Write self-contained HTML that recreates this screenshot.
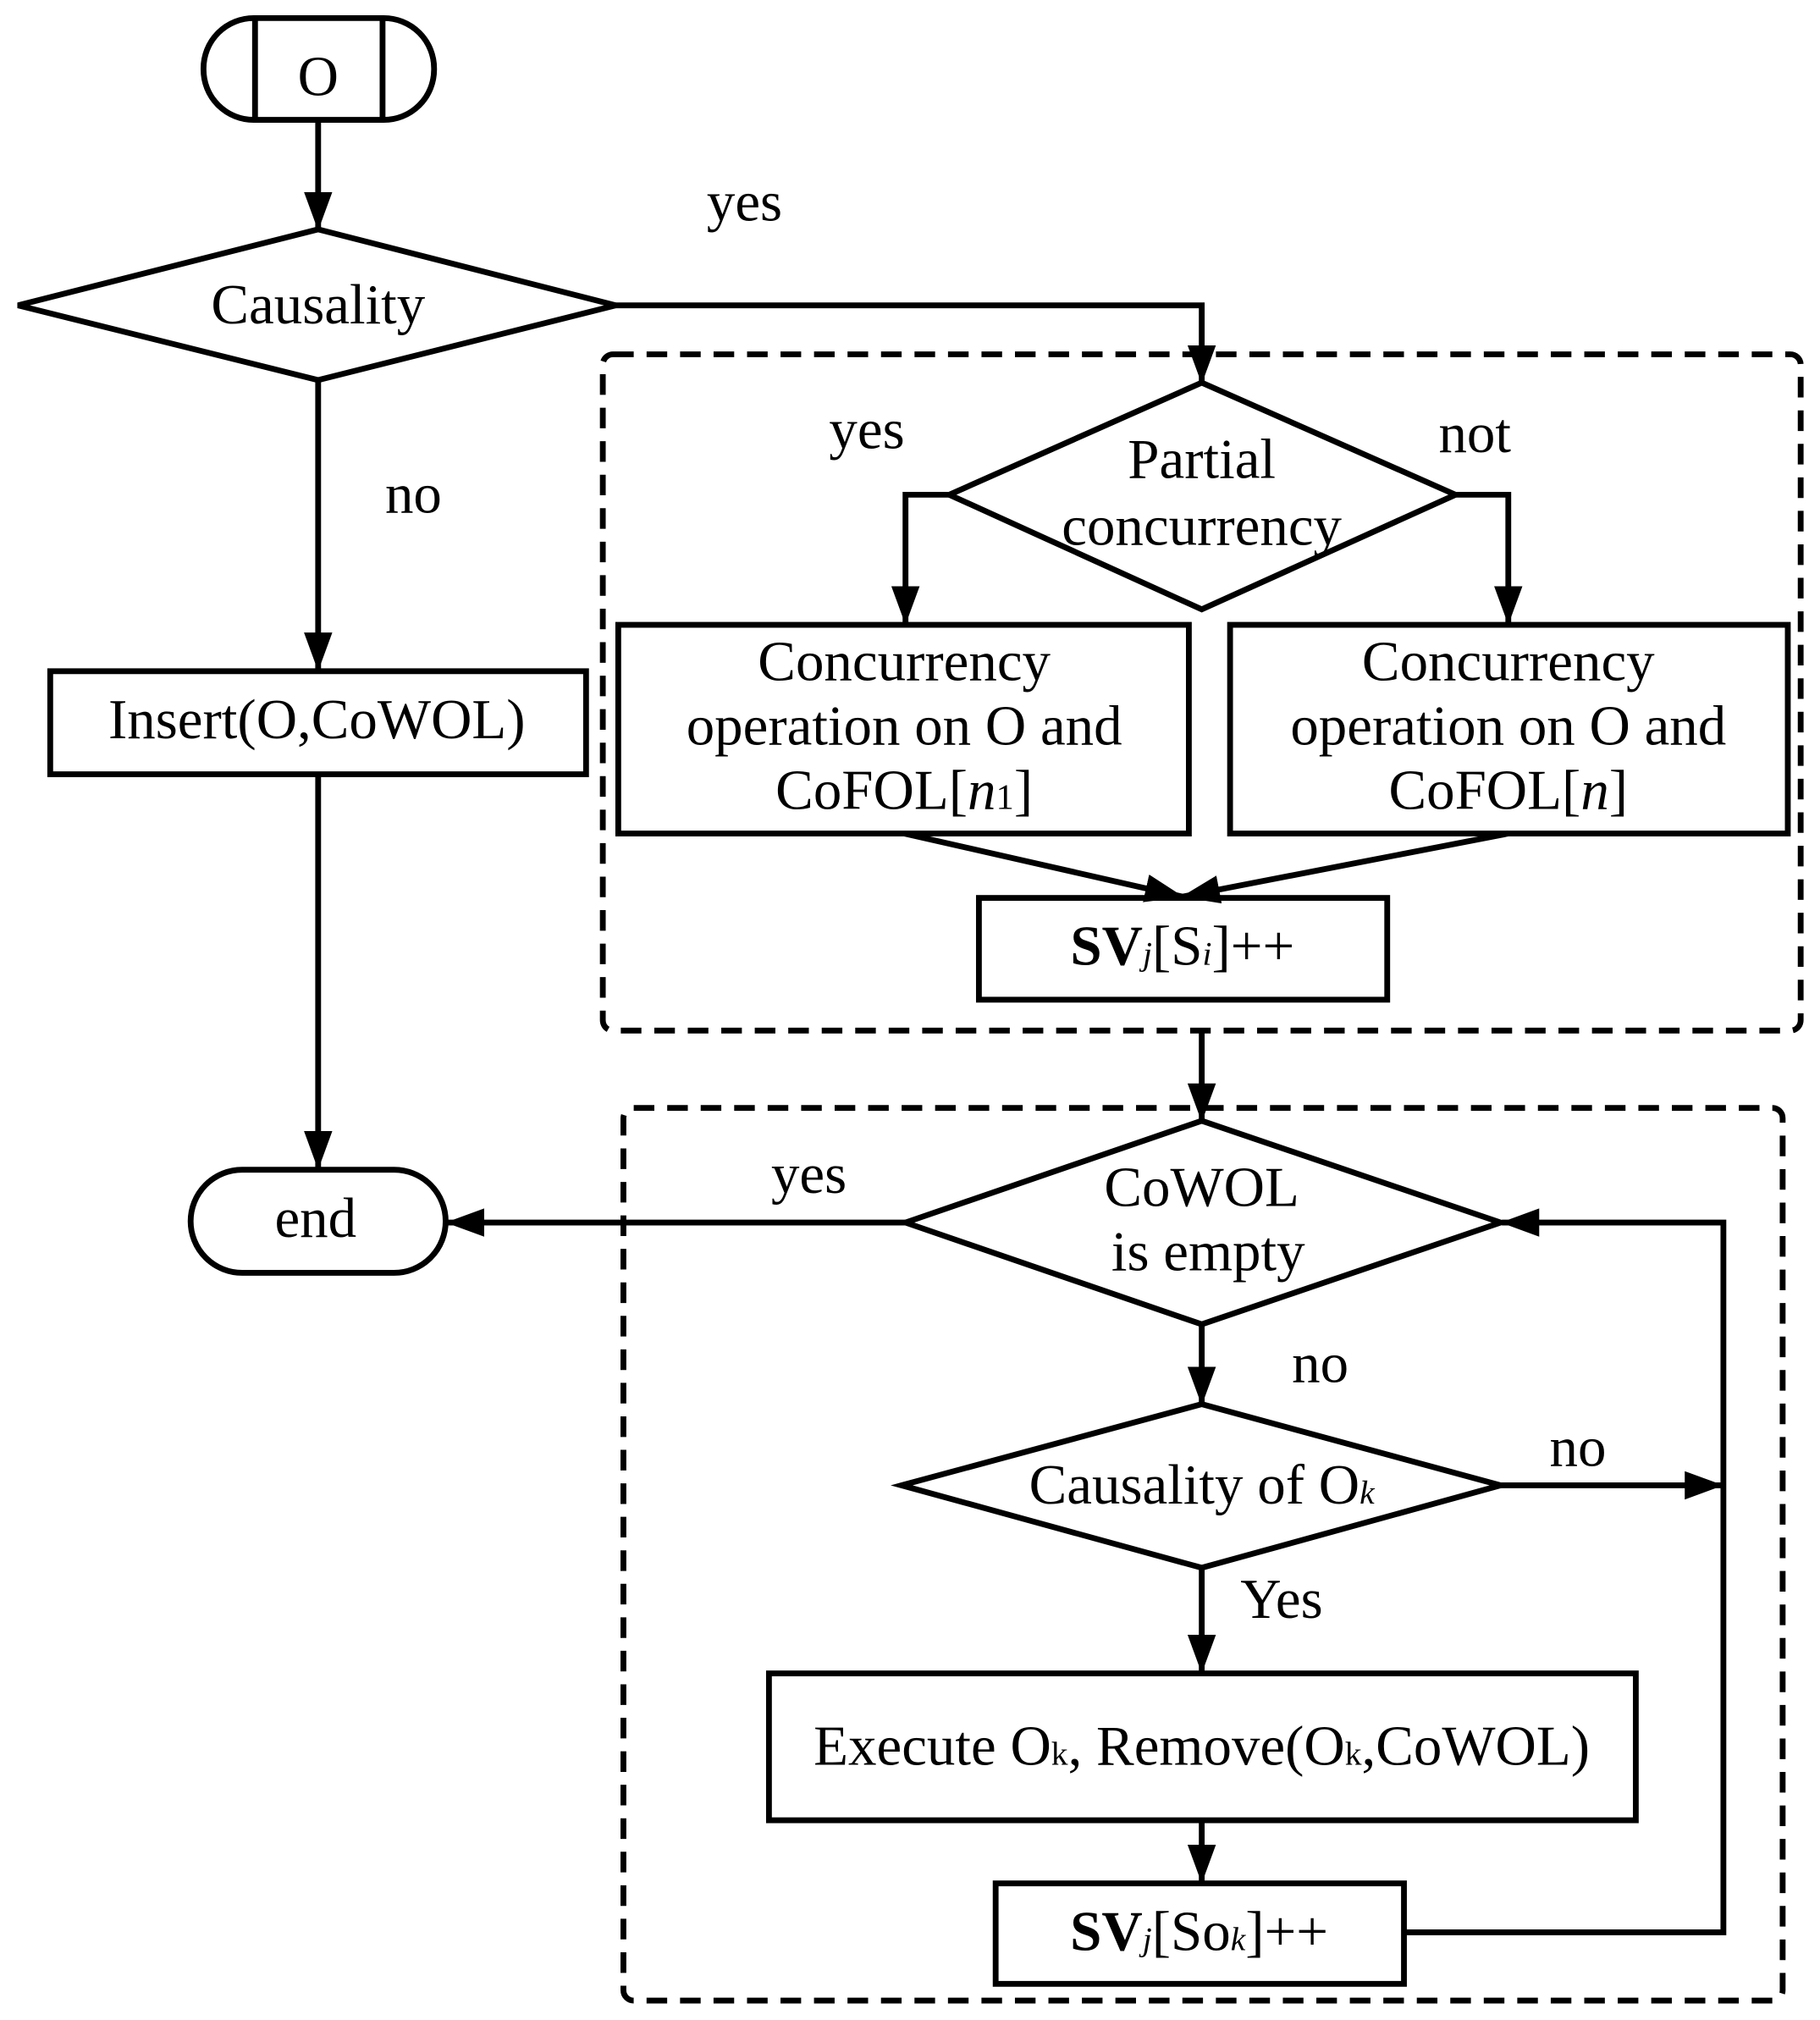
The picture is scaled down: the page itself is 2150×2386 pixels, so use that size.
<!DOCTYPE html>
<html><head><meta charset="utf-8"><style>html,body{margin:0;padding:0;background:#fff}svg{display:block}</style></head>
<body>
<svg width="2150" height="2386" viewBox="0 0 1413 1568" xmlns="http://www.w3.org/2000/svg" font-family="Liberation Serif, serif" font-size="44" text-anchor="middle">
<defs>
<marker id="b" markerWidth="30" markerHeight="30" refX="29" refY="15" orient="auto" markerUnits="userSpaceOnUse" viewBox="0 0 30 30"><path d="M0,4 L30,15 L0,26 z" fill="#000"/></marker></defs>
<g fill="none" stroke="#000" stroke-width="4.5">
<rect x="158" y="14" width="179" height="79" rx="39"/>
<line x1="198" y1="14" x2="198" y2="93"/><line x1="297" y1="14" x2="297" y2="93"/>
<line x1="247" y1="93" x2="247" y2="178" marker-end="url(#b)"/>
<polygon points="14,237 247,178 478,237 247,295"/>
<polyline points="478,237 933,237 933,297" marker-end="url(#b)"/>
<rect x="468" y="275" width="930" height="525" rx="8" stroke-dasharray="16,10"/>
<polygon points="737,384 933,297 1130,384 933,473"/>
<polyline points="737,384 703,384 703,484" marker-end="url(#b)"/>
<polyline points="1130,384 1171,384 1171,484" marker-end="url(#b)"/>
<rect x="480" y="485" width="443" height="162"/>
<rect x="955" y="485" width="433" height="162"/>
<line x1="702" y1="647" x2="918" y2="696" marker-end="url(#b)"/>
<line x1="1171" y1="647" x2="918" y2="696" marker-end="url(#b)"/>
<rect x="760" y="697" width="317" height="79"/>
<line x1="933" y1="800" x2="933" y2="870" marker-end="url(#b)"/>
<rect x="484" y="860" width="900" height="693" rx="8" stroke-dasharray="16,10"/>
<polygon points="703,949 933,870 1165,949 933,1028"/>
<line x1="703" y1="949" x2="347" y2="949" marker-end="url(#b)"/>
<line x1="247" y1="295" x2="247" y2="520" marker-end="url(#b)"/>
<rect x="39" y="521" width="416" height="80"/>
<line x1="247" y1="601" x2="247" y2="907" marker-end="url(#b)"/>
<rect x="148" y="908" width="198" height="80" rx="40"/>
<line x1="933" y1="1028" x2="933" y2="1090" marker-end="url(#b)"/>
<polygon points="700,1153 933,1090 1165,1153 933,1217"/>
<line x1="1165" y1="1153" x2="1337" y2="1153" marker-end="url(#b)"/>
<polyline points="1090,1500 1338,1500 1338,949 1166,949" marker-end="url(#b)"/>
<line x1="933" y1="1217" x2="933" y2="1298" marker-end="url(#b)"/>
<rect x="597" y="1299" width="673" height="114"/>
<line x1="933" y1="1413" x2="933" y2="1461" marker-end="url(#b)"/>
<rect x="773" y="1462" width="317" height="78"/>
</g>
<g fill="#000">
<text x="247" y="74">O</text>
<text x="247" y="251">Causality</text>
<text x="578" y="171">yes</text>
<text x="321" y="398">no</text>
<text x="673" y="348">yes</text>
<text x="1145" y="351">not</text>
<text x="933" y="371">Partial</text>
<text x="933" y="423">concurrency</text>
<text x="702" y="528">Concurrency</text>
<text x="702" y="578">operation on O and</text>
<text x="702" y="628">CoFOL[<tspan font-style="italic">n</tspan><tspan font-size="28">1</tspan>]</text>
<text x="1171" y="528">Concurrency</text>
<text x="1171" y="578">operation on O and</text>
<text x="1171" y="628">CoFOL[<tspan font-style="italic">n</tspan>]</text>
<text x="918" y="749"><tspan font-weight="bold">SV</tspan><tspan font-size="26" font-style="italic">j</tspan>[S<tspan font-size="26" font-style="italic">i</tspan>]++</text>
<text x="246" y="573">Insert(O,CoWOL)</text>
<text x="245" y="960">end</text>
<text x="628" y="926">yes</text>
<text x="933" y="936">CoWOL</text>
<text x="938" y="986">is empty</text>
<text x="1025" y="1073">no</text>
<text x="933" y="1167">Causality of O<tspan font-size="26" font-style="italic">k</tspan></text>
<text x="1225" y="1138">no</text>
<text x="995" y="1256">Yes</text>
<text x="933" y="1370">Execute O<tspan font-size="26">k</tspan>, Remove(O<tspan font-size="26">k</tspan>,CoWOL)</text>
<text x="931" y="1514"><tspan font-weight="bold">SV</tspan><tspan font-size="26" font-style="italic">j</tspan>[So<tspan font-size="26" font-style="italic">k</tspan>]++</text>
</g>
</svg>
</body></html>
